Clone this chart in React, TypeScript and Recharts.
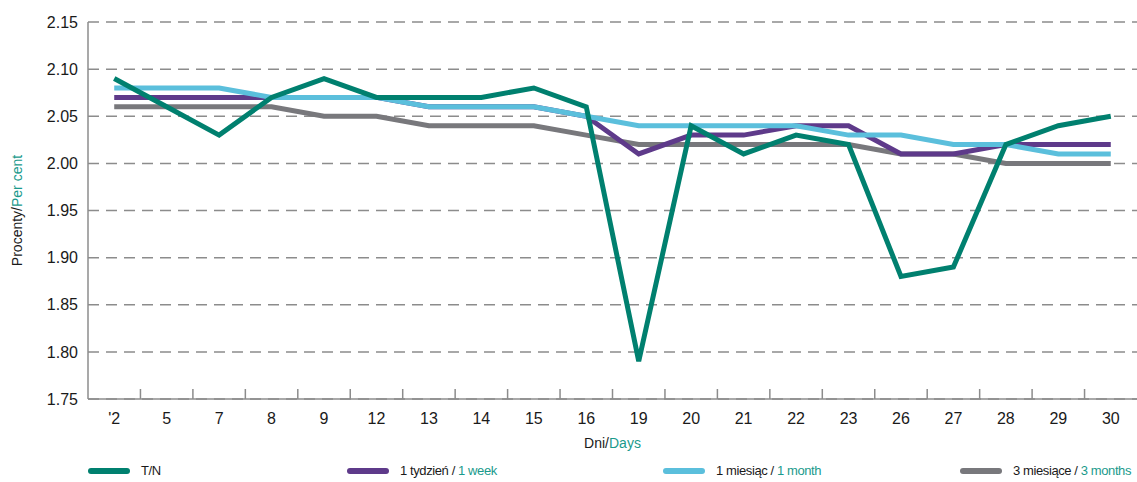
import React from "react";
import {
  LineChart,
  Line,
  XAxis,
  YAxis,
  CartesianGrid,
  Legend,
  Label,
} from "recharts";

/* ── Data ─────────────────────────────────────────────────────── */

const days = [
  "'2", "5", "7", "8", "9", "12", "13", "14", "15", "16",
  "19", "20", "21", "22", "23", "26", "27", "28", "29", "30",
];

const tn = [
  2.09, 2.06, 2.03, 2.07, 2.09, 2.07, 2.07, 2.07, 2.08, 2.06,
  1.79, 2.04, 2.01, 2.03, 2.02, 1.88, 1.89, 2.02, 2.04, 2.05,
];

const week1 = [
  2.07, 2.07, 2.07, 2.07, 2.07, 2.07, 2.06, 2.06, 2.06, 2.05,
  2.01, 2.03, 2.03, 2.04, 2.04, 2.01, 2.01, 2.02, 2.02, 2.02,
];

const month1 = [
  2.08, 2.08, 2.08, 2.07, 2.07, 2.07, 2.06, 2.06, 2.06, 2.05,
  2.04, 2.04, 2.04, 2.04, 2.03, 2.03, 2.02, 2.02, 2.01, 2.01,
];

const month3 = [
  2.06, 2.06, 2.06, 2.06, 2.05, 2.05, 2.04, 2.04, 2.04, 2.03,
  2.02, 2.02, 2.02, 2.02, 2.02, 2.01, 2.01, 2.00, 2.00, 2.00,
];

const yTicks = [1.75, 1.8, 1.85, 1.9, 1.95, 2.0, 2.05, 2.1, 2.15];

/* ── Constants ────────────────────────────────────────────────── */

const TEAL = "#00806f";
const TEAL_TEXT = "#1a9a8c";
const PURPLE = "#5e3a8a";
const CYAN = "#5bbfdc";
const GREY = "#78787c";
const AXIS = "#8c8c8c";
const FONT = "'Liberation Sans Narrow', 'Arial Narrow', 'Liberation Sans', sans-serif";

// drawn in this order: grey at the bottom, T/N on top
const SERIES = [
  { key: "m3", pl: "3 miesiące / ", en: "3 months", color: GREY },
  { key: "w1", pl: "1 tydzień / ", en: "1 week", color: PURPLE },
  { key: "m1", pl: "1 miesiąc / ", en: "1 month", color: CYAN },
  { key: "tn", pl: "T/N", en: "", color: TEAL },
];

const LEGEND_ORDER = ["tn", "w1", "m1", "m3"];
const LEGEND_WIDTHS = [259, 316, 297, 177];

const data = days.map((d, i) => ({
  day: d,
  tn: tn[i],
  w1: week1[i],
  m1: month1[i],
  m3: month3[i],
}));

/* ── Pieces ───────────────────────────────────────────────────── */

const DayTick = (props: any) => {
  const { x, y, payload, index } = props;
  const half = payload.offset ?? 0;
  return (
    <g>
      {index > 0 && (
        <line
          x1={x - half}
          x2={x - half}
          y1={y}
          y2={y - 10}
          stroke={AXIS}
          strokeWidth={1.5}
        />
      )}
      <text
        x={x}
        y={y + 25}
        textAnchor="middle"
        fontFamily={FONT}
        fontSize={16}
        fill="#1a1a1a"
      >
        {payload.value}
      </text>
    </g>
  );
};

const LegendContent = () => (
  <div
    style={{
      display: "flex",
      height: 23,
      alignItems: "center",
      fontFamily: FONT,
      fontSize: 13,
      letterSpacing: -0.4,
      color: "#1a1a1a",
    }}
  >
    {LEGEND_ORDER.map((k, i) => {
      const s = SERIES.find((x) => x.key === k)!;
      return (
        <div
          key={k}
          style={{
            width: LEGEND_WIDTHS[i],
            display: "flex",
            alignItems: "center",
            whiteSpace: "pre",
          }}
        >
          <span
            style={{
              display: "inline-block",
              width: 42,
              height: 6,
              borderRadius: 3,
              background: s.color,
              marginRight: 11,
            }}
          />
          <span>
            {s.pl}
            <span style={{ color: TEAL_TEXT }}>{s.en}</span>
          </span>
        </div>
      );
    })}
  </div>
);

/* ── Chart ────────────────────────────────────────────────────── */

export default function App() {
  return (
    <div style={{ position: "absolute", left: 0, top: 0, background: "#fff" }}>
      <LineChart
        width={1137}
        height={482}
        data={data}
        margin={{ top: 22, right: 0, bottom: 0, left: 0 }}
      >
        <CartesianGrid
          vertical={false}
          stroke={AXIS}
          strokeWidth={1.5}
          strokeDasharray="11 7"
        />
        <XAxis
          dataKey="day"
          scale="band"
          interval={0}
          height={60}
          tickSize={0}
          tickMargin={0}
          tick={<DayTick />}
          axisLine={{ stroke: AXIS, strokeWidth: 1.5 }}
        >
          <Label
            content={({ viewBox }: any) => (
              <text
                x={viewBox.x + viewBox.width / 2}
                y={viewBox.y + 49}
                textAnchor="middle"
                fontFamily={FONT}
                fontSize={14}
                fill="#1a1a1a"
              >
                Dni/<tspan fill={TEAL_TEXT}>Days</tspan>
              </text>
            )}
          />
        </XAxis>
        <YAxis
          width={88}
          domain={[1.75, 2.15]}
          ticks={yTicks}
          tickFormatter={(v: number) => v.toFixed(2)}
          tickLine={false}
          tickSize={0}
          tickMargin={10}
          tick={{ fontFamily: FONT, fontSize: 16, fill: "#1a1a1a" }}
          axisLine={{ stroke: AXIS, strokeWidth: 1.5 }}
        >
          <Label
            content={({ viewBox }: any) => {
              const cx = viewBox.x + 22;
              const cy = viewBox.y + viewBox.height / 2;
              return (
                <text
                  x={cx}
                  y={cy}
                  transform={`rotate(-90 ${cx} ${cy})`}
                  textAnchor="middle"
                  fontFamily={FONT}
                  fontSize={14}
                  fill="#1a1a1a"
                >
                  Procenty/<tspan fill={TEAL_TEXT}>Per cent</tspan>
                </text>
              );
            }}
          />
        </YAxis>
        <Legend
          verticalAlign="bottom"
          height={23}
          content={<LegendContent />}
          wrapperStyle={{ paddingLeft: 88, boxSizing: "border-box" }}
        />
        {SERIES.map((s) => (
          <Line
            key={s.key}
            dataKey={s.key}
            type="linear"
            stroke={s.color}
            strokeWidth={5}
            dot={false}
            activeDot={false}
            isAnimationActive={false}
          />
        ))}
      </LineChart>
    </div>
  );
}
